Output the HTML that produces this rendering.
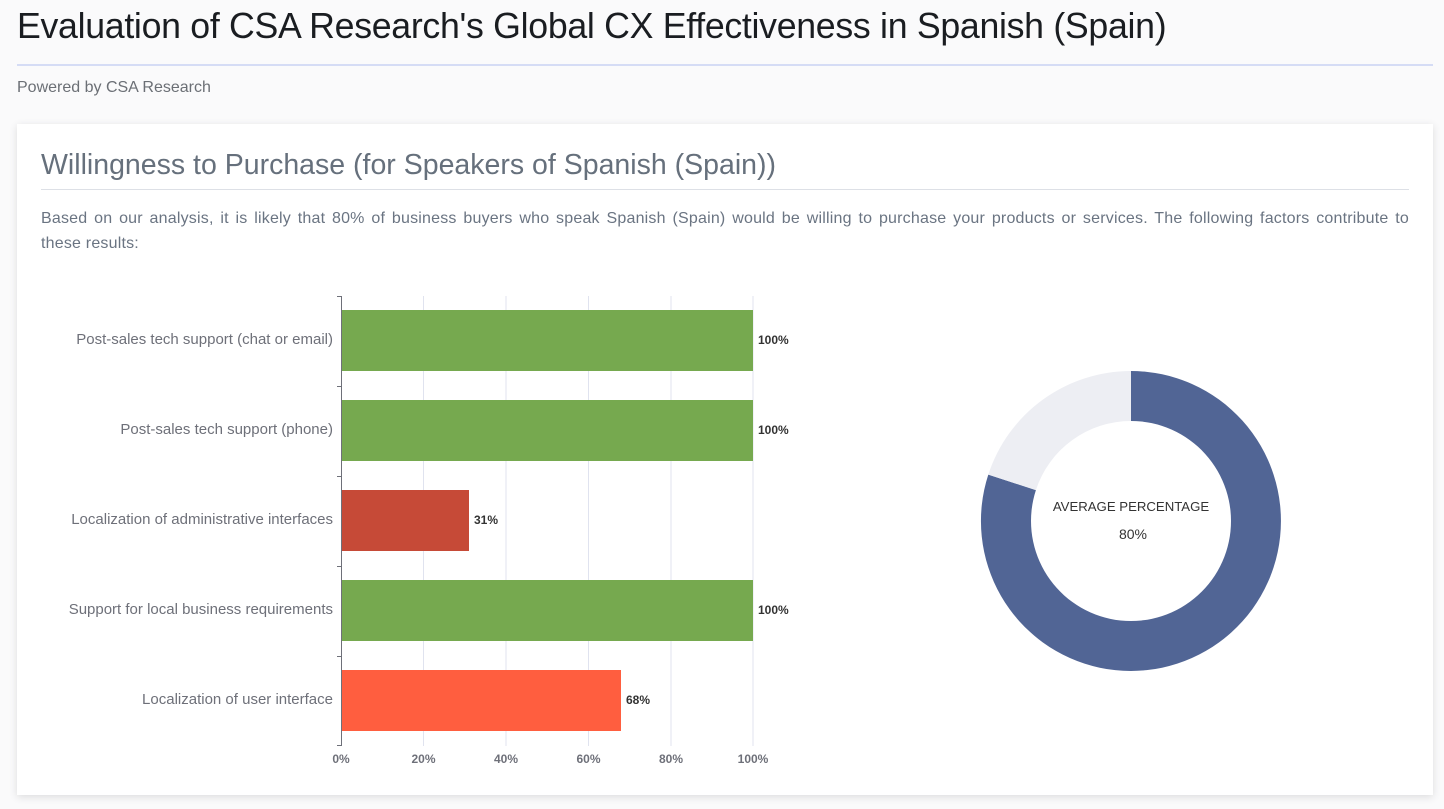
<!DOCTYPE html><html><head><style>
body{margin:0;width:1444px;height:809px;background:#fafafb;font-family:"Liberation Sans",sans-serif;overflow:hidden;position:relative}
h1{position:absolute;left:17px;top:6px;margin:0;font-weight:400;font-size:35.7px;color:#1a1d21;letter-spacing:-0.3px}
.hr{position:absolute;left:17px;top:64px;width:1416px;height:2px;background:#d5dcf5}
.pw{position:absolute;left:17px;top:79px;font-size:16px;color:#6b6f75}
.card{position:absolute;left:17px;top:124px;width:1416px;height:671px;background:#fff;box-shadow:0 2px 8px rgba(0,0,0,.12)}
h2{position:absolute;left:24px;top:25px;margin:0;font-weight:400;font-size:28.5px;color:#66707c}
.hr2{position:absolute;left:24px;top:65px;width:1368px;height:1px;background:#dde0e6}
p{position:absolute;left:24px;top:82px;width:1368px;margin:0;font-size:16px;letter-spacing:0.2px;line-height:25px;color:#6a7482}
p span{display:block;text-align:justify;text-align-last:justify}
</style></head><body>
<h1>Evaluation of CSA Research's Global CX Effectiveness in Spanish (Spain)</h1>
<div class="hr"></div>
<div class="pw">Powered by CSA Research</div>
<div class="card"><h2>Willingness to Purchase (for Speakers of Spanish (Spain))</h2><div class="hr2"></div>
<p><span>Based on our analysis, it is likely that 80% of business buyers who speak Spanish (Spain) would be willing to purchase your products or services. The following factors contribute to</span>these results:</p></div>
<svg style="position:absolute;left:0;top:0" width="1444" height="809" font-family="Liberation Sans, sans-serif">
<g stroke="#e0e3ef" stroke-width="1">
<line x1="423.5" y1="296" x2="423.5" y2="746"/><line x1="506" y1="296" x2="506" y2="746"/><line x1="588.5" y1="296" x2="588.5" y2="746"/><line x1="671" y1="296" x2="671" y2="746"/><line x1="753" y1="296" x2="753" y2="746"/></g>
<rect x="341" y="310" width="412" height="61" fill="#76a94f"/>
<rect x="341" y="400" width="412" height="61" fill="#76a94f"/>
<rect x="341" y="490" width="128" height="61" fill="#c64a37"/>
<rect x="341" y="580" width="412" height="61" fill="#76a94f"/>
<rect x="341" y="670" width="280" height="61" fill="#ff5e3f"/>
<g stroke="#6e7079"><line x1="341.5" y1="296" x2="341.5" y2="746"/>
<line x1="337" y1="296.5" x2="341" y2="296.5"/><line x1="337" y1="386.5" x2="341" y2="386.5"/><line x1="337" y1="476.5" x2="341" y2="476.5"/><line x1="337" y1="566.5" x2="341" y2="566.5"/><line x1="337" y1="656.5" x2="341" y2="656.5"/><line x1="337" y1="745.5" x2="341" y2="745.5"/></g>
<g font-size="15" fill="#6e7079" text-anchor="end">
<text x="333" y="344">Post-sales tech support (chat or email)</text>
<text x="333" y="434">Post-sales tech support (phone)</text>
<text x="333" y="524">Localization of administrative interfaces</text>
<text x="333" y="614">Support for local business requirements</text>
<text x="333" y="704">Localization of user interface</text></g>
<g font-size="12" font-weight="bold" fill="#333">
<text x="758" y="344">100%</text><text x="758" y="434">100%</text><text x="474" y="524">31%</text><text x="758" y="614">100%</text><text x="626" y="704">68%</text></g>
<g font-size="12" font-weight="bold" fill="#6e7079" text-anchor="middle">
<text x="341" y="763">0%</text><text x="423.5" y="763">20%</text><text x="506" y="763">40%</text><text x="588.5" y="763">60%</text><text x="671" y="763">80%</text><text x="753" y="763">100%</text></g>
<path d="M1131 371 A150 150 0 1 1 988.3 474.6 L1035.9 490.1 A100 100 0 1 0 1131 421 Z" fill="#516595"/>
<path d="M988.3 474.6 A150 150 0 0 1 1131 371 L1131 421 A100 100 0 0 0 1035.9 490.1 Z" fill="#edeef3"/>
<text x="1131" y="511" font-size="13.2" fill="#333" text-anchor="middle">AVERAGE PERCENTAGE</text>
<text x="1133" y="539" font-size="14" fill="#333" text-anchor="middle">80%</text>
</svg></body></html>
